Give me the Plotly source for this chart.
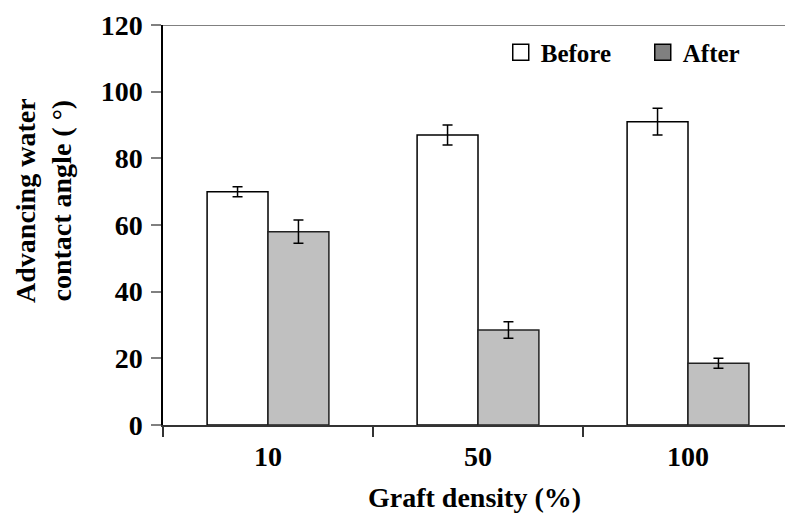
import plotly.graph_objects as go

categories = ["10", "50", "100"]
before = [70, 87, 91]
before_err = [1.5, 3, 4]
after = [58, 28.5, 18.5]
after_err = [3.5, 2.5, 1.5]
y_ticks = [0, 20, 40, 60, 80, 100, 120]

font_family = "Liberation Serif"

fig = go.Figure()
fig.add_trace(go.Bar(
    x=categories, y=before, name="Before", showlegend=False,
    marker=dict(color="white", line=dict(color="black", width=1.5)),
    error_y=dict(type="data", array=before_err, color="black", thickness=1.5, width=5),
))
fig.add_trace(go.Bar(
    x=categories, y=after, name="After", showlegend=False,
    marker=dict(color="#C0C0C0", line=dict(color="#222222", width=1.5)),
    error_y=dict(type="data", array=after_err, color="black", thickness=1.5, width=5),
))
# legend entries
fig.add_trace(go.Scatter(
    x=[None], y=[None], mode="markers", name="Before",
    marker=dict(symbol="square", size=18, color="white", line=dict(color="black", width=1.5)),
))
fig.add_trace(go.Scatter(
    x=[None], y=[None], mode="markers", name="After",
    marker=dict(symbol="square", size=18, color="#808080", line=dict(color="black", width=1.5)),
))

fig.update_layout(
    width=785, height=514,
    margin=dict(l=163, r=0, t=25, b=89),
    paper_bgcolor="white", plot_bgcolor="white",
    font=dict(family=font_family, size=28, color="black"),
    barmode="group", bargap=0.42, bargroupgap=0,
    legend=dict(orientation="h", x=0.543, y=0.931, xanchor="left", yanchor="middle",
                font=dict(family=font_family, size=25, color="black", weight="bold"),
                bgcolor="rgba(0,0,0,0)", entrywidth=97, traceorder="normal"),
    shapes=[dict(type="line", xref="paper", yref="y", x0=0, x1=1, y0=120, y1=120,
                 line=dict(color="#808080", width=2))],
    annotations=[
        dict(text="<b>Graft density (%)</b>", xref="paper", yref="paper",
             x=0.5, y=-0.18, xanchor="center", yanchor="middle", showarrow=False,
             font=dict(family=font_family, size=28, color="black")),
        dict(text="<b>Advancing water<br>contact angle ( °)</b>", xref="paper", yref="paper",
             x=-0.193, y=0.5625, xanchor="center", yanchor="middle", showarrow=False,
             textangle=-90, font=dict(family=font_family, size=28, color="black")),
    ],
)
fig.update_xaxes(
    type="category", range=[-0.5, -0.5 + 622 / 210],
    showline=True, linecolor="#333333", linewidth=2,
    ticks="outside", tickson="boundaries", ticklen=10, tickcolor="#333333", tickwidth=1.5,
    ticklabelstandoff=5,
    tickfont=dict(family=font_family, size=28, color="black", weight="bold"),
    showgrid=False, zeroline=False,
)
fig.update_yaxes(
    range=[0, 120], tickvals=y_ticks, ticksuffix="\u2009",
    showline=True, linecolor="black", linewidth=1.5,
    ticks="outside", ticklen=10, tickcolor="#808080", tickwidth=1.5,
    ticklabelstandoff=3,
    tickfont=dict(family=font_family, size=28, color="black", weight="bold"),
    showgrid=False, zeroline=False,
)

fig.write_html("out.html")
